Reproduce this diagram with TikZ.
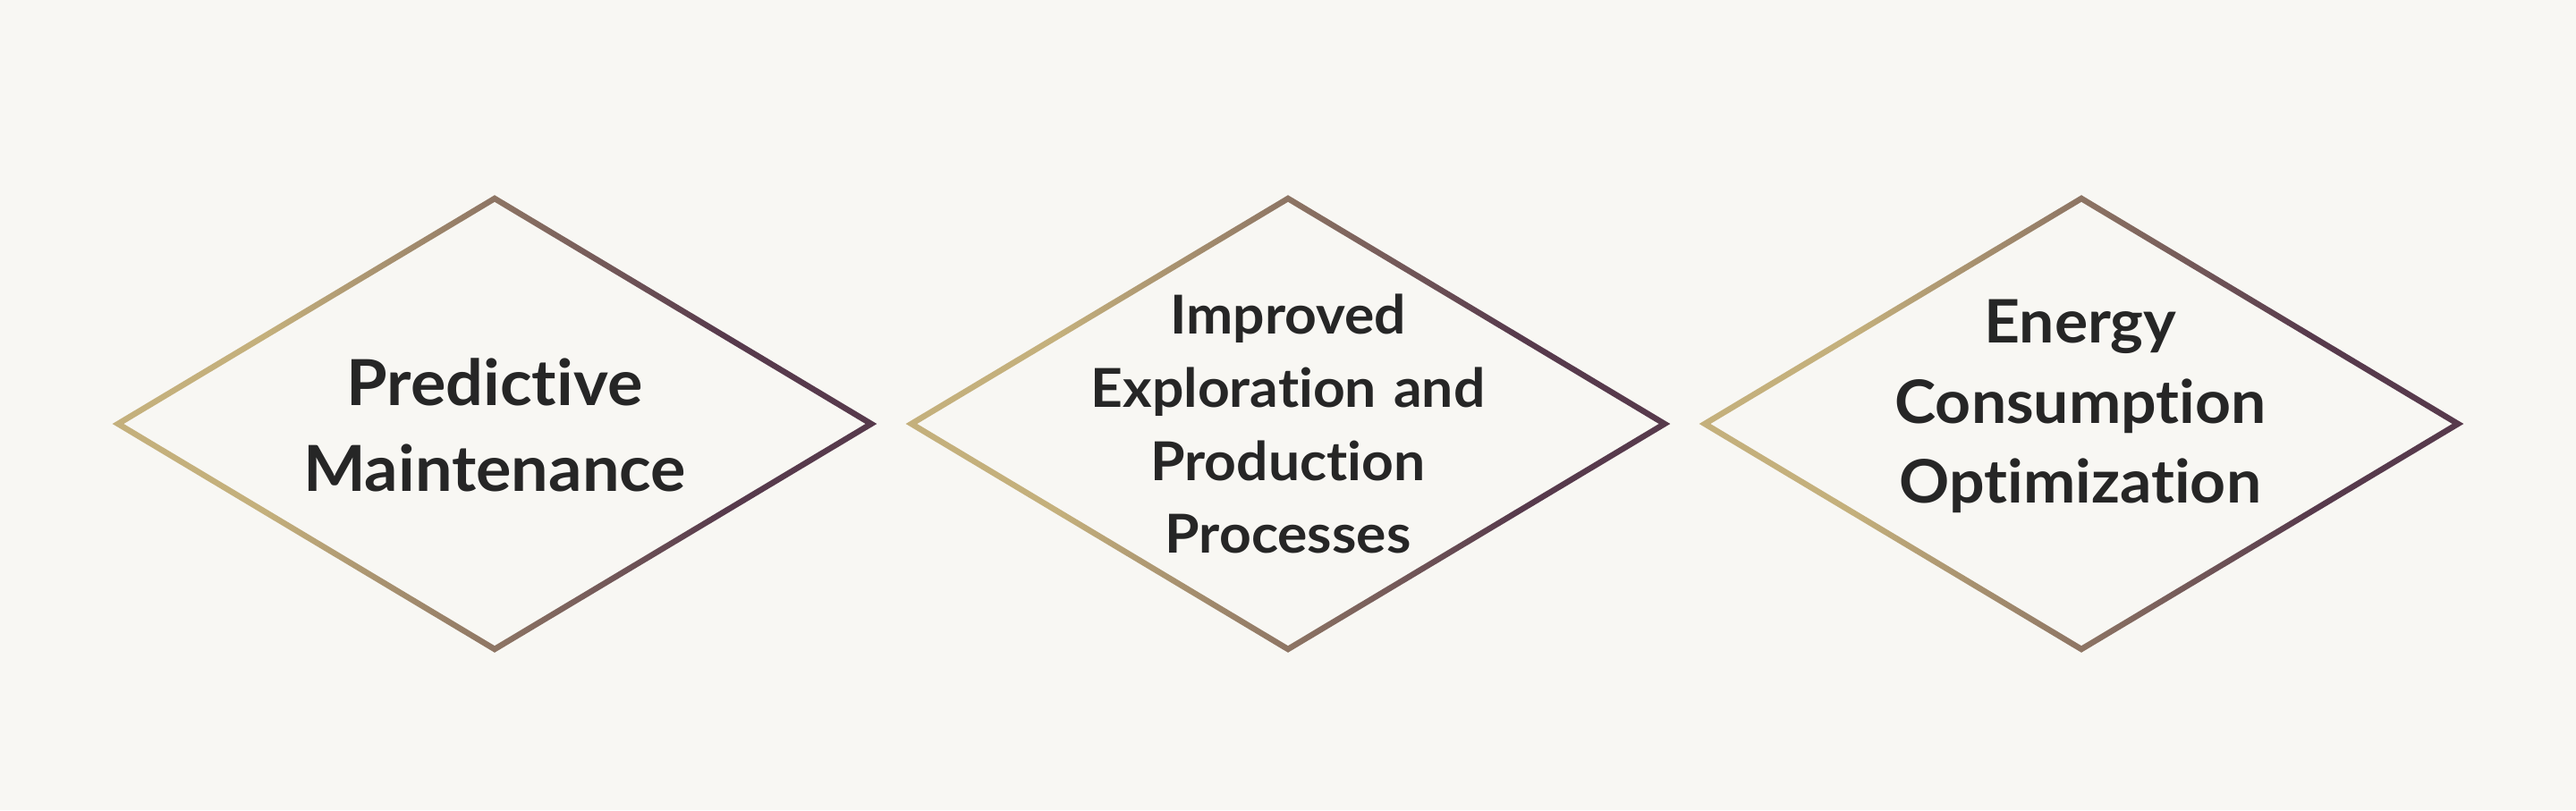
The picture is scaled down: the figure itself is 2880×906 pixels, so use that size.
\documentclass[tikz,border=0pt]{standalone}
\usepackage{fontspec}
\setmainfont{Lato}[Ligatures={NoCommon}, FakeStretch=1.04]
\definecolor{bgc}{HTML}{F8F7F3}
\definecolor{tanc}{HTML}{C4B07C}
\definecolor{purpc}{HTML}{573A4C}
\definecolor{txtc}{HTML}{262626}
\pgfdeclarehorizontalshading{diagrad}{100bp}{color(0bp)=(tanc); color(35bp)=(tanc); color(65bp)=(purpc); color(100bp)=(purpc)}
\tikzset{
  gradframe/.pic={
    \shade[shading=diagrad, even odd rule]
      (-427.33,0) -- (0,-255.79) -- (427.33,0) -- (0,255.79) -- cycle
      (-414.67,0) -- (0,-248.21) -- (414.67,0) -- (0,248.21) -- cycle;
  },
  lbl/.style={anchor=base, inner sep=0pt, text=txtc, font=\bfseries\fontsize{#1}{#1}\selectfont}
}
\begin{document}
\begin{tikzpicture}[x=1pt,y=-1pt]
\fill[bgc] (0,0) rectangle (2880,906);
\useasboundingbox (0,0) rectangle (2880,906);
\coordinate (c1) at (553,474);
\coordinate (c2) at (1440,474);
\coordinate (c3) at (2327,474);
\pic at (c1) {gradframe};
\pic at (c2) {gradframe};
\pic at (c3) {gradframe};
% diamond 1
\node[lbl=71] (t1a) at (553,453) {Predictive};
\node[lbl=71] (t1b) at (553,549) {Maintenance};
% diamond 2
\node[lbl=60] (t2a) at (1440,373) {Improved};
\node[lbl=60] (t2b) at (1440,455) {Exploration\hspace{4pt} and};
\node[lbl=60] (t2c) at (1440,537) {Production};
\node[lbl=60] (t2d) at (1440,618) {Processes};
% diamond 3
\node[lbl=67] (t3a) at (2326,383) {Energy};
\node[lbl=67] (t3b) at (2326,473) {Consumption};
\node[lbl=67] (t3c) at (2326,562) {Optimization};
\end{tikzpicture}
\end{document}
